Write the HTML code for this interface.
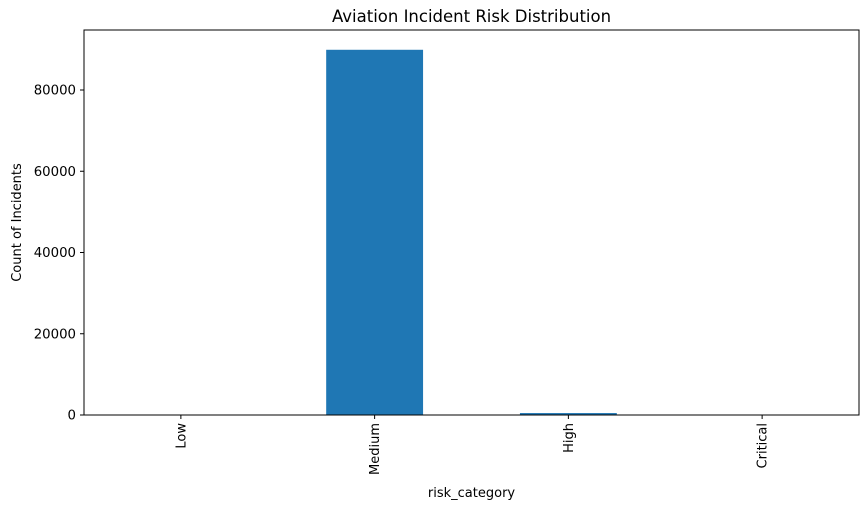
<!DOCTYPE html>
<html><head><meta charset="utf-8"><style>body{margin:0;background:#fff}svg{display:block;font-family:"DejaVu Sans","Liberation Sans",sans-serif}</style></head>
<body>
<svg id="c" width="868" height="510"></svg>
<script>
const categories=["Low","Medium","High","Critical"];
const counts=[0,89900,480,0];
const yTicks=[0,20000,40000,60000,80000];
const L=84,R=859,T=30,B=415;
const ns="http://www.w3.org/2000/svg";
const svg=document.getElementById('c');
const step=(R-L)/categories.length;
function x(i){return L+step*(i+0.5);}
function y(v){return B-v*(325/80000);}
function el(t,a,txt){const e=document.createElementNS(ns,t);for(const k in a)e.setAttribute(k,a[k]);if(txt!==undefined)e.textContent=txt;svg.appendChild(e);return e;}
categories.forEach((c,i)=>{
 const b=el('rect',{x:x(i)-step/4,y:y(counts[i]),width:step/2,height:B-y(counts[i]),fill:'#1f77b4'});
 
 
 el('line',{x1:x(i),x2:x(i),y1:B,y2:B+4,stroke:'#000'});
 const t=el('text',{x:0,y:0,'font-size':13,'text-anchor':'end',transform:`translate(${x(i)+4.5},${B+8}) rotate(-90)`},c);
 
 
});
yTicks.forEach(v=>{
 el('line',{x1:L-4,x2:L,y1:y(v),y2:y(v),stroke:'#000'});
 const t=el('text',{x:L-8,y:y(v)+4.5,'font-size':13.3,'text-anchor':'end'},v);
 
 
});
const f=el('rect',{x:L,y:T,width:R-L,height:B-T,fill:'none',stroke:'#000','stroke-width':1});


const ti=el('text',{x:(L+R)/2,y:22,'font-size':16.5,'text-anchor':'middle'},'Aviation Incident Risk Distribution');


const xl=el('text',{x:(L+R)/2,y:497,'font-size':13,'text-anchor':'middle'},'risk_category');


const yl=el('text',{x:0,y:0,'font-size':13,'text-anchor':'middle',transform:`translate(21,${(T+B)/2}) rotate(-90)`},'Count of Incidents');


</script>
</body></html>
